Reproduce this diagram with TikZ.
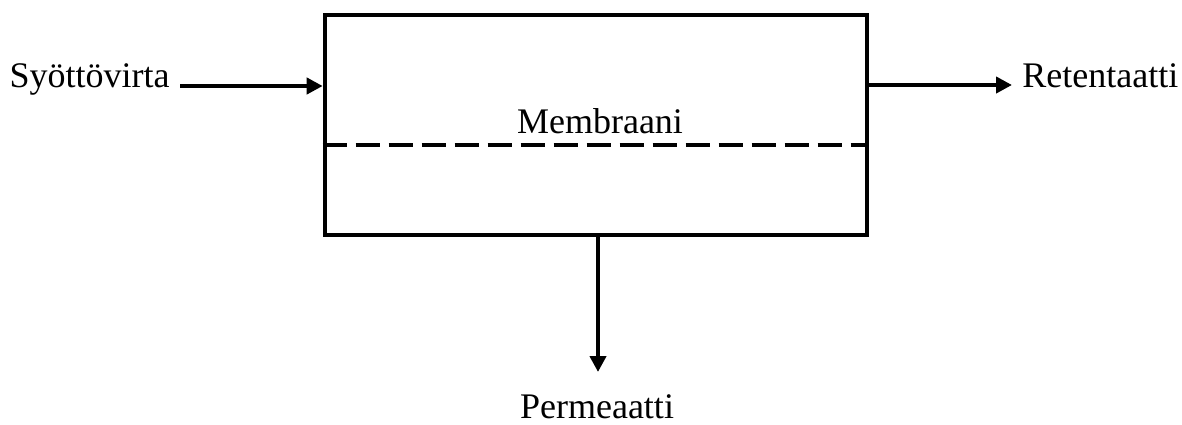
\documentclass[tikz,border=0pt]{standalone}
\usepackage{fontspec}
\setmainfont{Liberation Serif}
\usetikzlibrary{arrows.meta}
\begin{document}
\begin{tikzpicture}[x=0.5pt,y=-0.5pt,
  lbl/.style={inner sep=0pt,font=\fontsize{18}{22}\selectfont},
  arr/.style={line width=2pt,-{Triangle[length=8pt,width=8pt]}},
  boxstyle/.style={draw,line width=2.3pt,minimum width=271pt,minimum height=110pt,inner sep=0pt}]
\useasboundingbox (0,0) rectangle (1182,424);
\node[boxstyle] (box) at (596,125) {};
\node[lbl,anchor=base east] (syo) at (170,87) {Syöttövirta};
\node[lbl,anchor=base west] (ret) at (1022,87) {Retentaatti};
\node[lbl,anchor=base] (mem) at (600,133) {Membraani};
\node[lbl,anchor=base] (per) at (597,418) {Permeaatti};
\coordinate (inS) at (180,86);
\coordinate (outE) at (1012,85);
\coordinate (downE) at (598,372);
\draw[arr] (inS) -- (inS -| box.west);
\draw[arr] (outE -| box.east) -- (outE);
\draw[arr] (downE |- box.south) -- (downE);
\draw[line width=1.8pt,dash pattern=on 12pt off 4.5pt] (box.west |- 0,145) -- (box.east |- 0,145);
\end{tikzpicture}
\end{document}
